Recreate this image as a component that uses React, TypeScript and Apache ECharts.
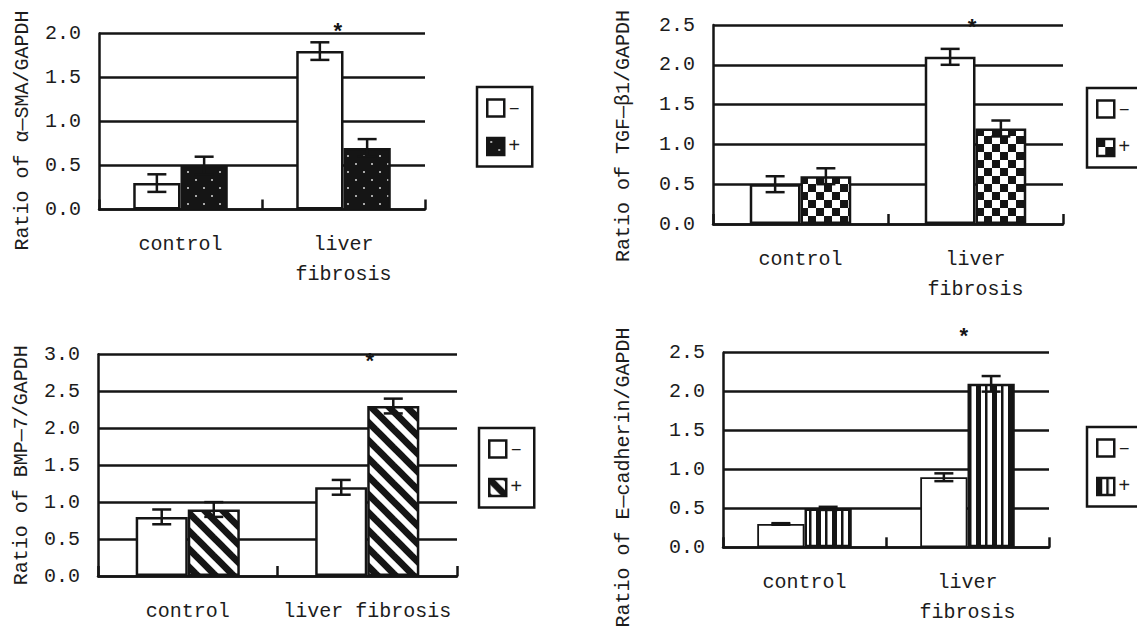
import React, { useEffect, useRef } from 'react';
import * as echarts from 'echarts';

// ---- data ----
const catTwoLine = ['control', 'liver\nfibrosis'];
const catOneLine = ['control', 'liver fibrosis'];

const smaMinus = [0.3, 1.8];
const smaPlus = [0.5, 0.7];
const smaMinusErr = [0.1, 0.1];
const smaPlusErr = [0.1, 0.1];

const tgfMinus = [0.5, 2.1];
const tgfPlus = [0.6, 1.2];
const tgfMinusErr = [0.1, 0.1];
const tgfPlusErr = [0.1, 0.1];

const bmpMinus = [0.8, 1.2];
const bmpPlus = [0.9, 2.3];
const bmpMinusErr = [0.1, 0.1];
const bmpPlusErr = [0.1, 0.1];

const ecadMinus = [0.3, 0.9];
const ecadPlus = [0.5, 2.1];
const ecadMinusErr = [0.01, 0.05];
const ecadPlusErr = [0.02, 0.1];

const yTitles = [
  'Ratio of α—SMA/GAPDH',
  'Ratio of TGF—β1/GAPDH',
  'Ratio of BMP—7/GAPDH',
  'Ratio of E—cadherin/GAPDH',
];
const yMax = [2, 2.5, 3, 2.5];
const legendLabels = ['–', '+'];
const starLabel = '*';

// ---- layout / style ----
const FONT = "'Liberation Mono', 'DejaVu Sans Mono', monospace";
const INK = '#151515';
const TEXT = '#1c1c1c';
const GAP = 0.42;

const layouts = [
  { grid: { left: 99, top: 33.5, width: 326, height: 176 }, legend: { left: 477, top: 87 }, nameGap: 67, namePad: 18, star: [18, 0], cats: catTwoLine, minusBorder: 2.5 },
  { grid: { left: 713, top: 25, width: 350, height: 199 }, legend: { left: 1087, top: 88 }, nameGap: 80, namePad: 23, star: [22, 4], cats: catTwoLine, minusBorder: 2.5 },
  { grid: { left: 98, top: 354.3, width: 359, height: 221.7 }, legend: { left: 479, top: 428 }, nameGap: 67, namePad: 0, star: [28.5, 9], cats: catOneLine, minusBorder: 2.5 },
  { grid: { left: 723, top: 352.7, width: 326, height: 194.6 }, legend: { left: 1087, top: 427 }, nameGap: 90, namePad: 55, star: [20, -14], cats: catTwoLine, minusBorder: 1.8 },
];

function makeCanvas(w: number, h: number, draw: (c: CanvasRenderingContext2D) => void) {
  const cv = document.createElement('canvas');
  cv.width = w;
  cv.height = h;
  const ctx = cv.getContext('2d')!;
  draw(ctx);
  return { image: cv, repeat: 'repeat', imageWidth: w, imageHeight: h } as any;
}

function buildPatterns() {
  const dots = makeCanvas(16, 16, (c) => {
    c.fillStyle = INK;
    c.fillRect(0, 0, 16, 16);
    c.fillStyle = '#a8a8a8';
    c.fillRect(3, 3, 2, 2);
    c.fillRect(11, 11, 2, 2);
  });
  const checker = makeCanvas(16, 16, (c) => {
    c.fillStyle = '#fff';
    c.fillRect(0, 0, 16, 16);
    c.fillStyle = INK;
    c.fillRect(0, 0, 8, 8);
    c.fillRect(8, 8, 8, 8);
  });
  const diag = makeCanvas(18, 18, (c) => {
    c.fillStyle = '#fff';
    c.fillRect(0, 0, 18, 18);
    c.strokeStyle = INK;
    c.lineWidth = 6.8;
    for (const o of [-18, 0, 18]) {
      c.beginPath();
      c.moveTo(o - 4, -4);
      c.lineTo(o + 22, 22);
      c.stroke();
    }
  });
  const vstripe = makeCanvas(16, 4, (c) => {
    c.fillStyle = '#fff';
    c.fillRect(0, 0, 16, 4);
    c.fillStyle = INK;
    c.fillRect(0, 0, 5, 4);
    c.fillRect(9, 0, 2.5, 4);
  });
  return [dots, checker, diag, vstripe];
}

function errSeries(gi: number, vals: number[], errs: number[], side: number) {
  return {
    type: 'custom',
    name: `err${side > 0 ? 'p' : 'm'}${gi}`,
    xAxisIndex: gi,
    yAxisIndex: gi,
    z: 5,
    silent: true,
    data: vals.map((v, k) => [k, v - errs[k], v + errs[k]]),
    encode: { x: 0, y: [1, 2] },
    renderItem: (params: any, api: any) => {
      const k = api.value(0);
      const lo = api.coord([k, api.value(1)]);
      const hi = api.coord([k, api.value(2)]);
      const catW = api.size([1, 0])[0];
      const bw = (catW * (1 - GAP)) / 2;
      const x = lo[0] + (side * bw) / 2;
      const c = 9.5;
      const style = { stroke: INK, lineWidth: 2.5, fill: 'none' };
      return {
        type: 'group',
        children: [
          { type: 'line', shape: { x1: x, y1: lo[1], x2: x, y2: hi[1] }, style },
          { type: 'line', shape: { x1: x - c, y1: hi[1], x2: x + c, y2: hi[1] }, style },
          { type: 'line', shape: { x1: x - c, y1: lo[1], x2: x + c, y2: lo[1] }, style },
        ],
      };
    },
  };
}

function buildOption() {
  const patterns = buildPatterns();
  const minusData = [smaMinus, tgfMinus, bmpMinus, ecadMinus];
  const plusData = [smaPlus, tgfPlus, bmpPlus, ecadPlus];
  const minusErr = [smaMinusErr, tgfMinusErr, bmpMinusErr, ecadMinusErr];
  const plusErr = [smaPlusErr, tgfPlusErr, bmpPlusErr, ecadPlusErr];

  const grid: any[] = [];
  const xAxis: any[] = [];
  const yAxis: any[] = [];
  const legend: any[] = [];
  const series: any[] = [];

  layouts.forEach((L, i) => {
    grid.push({ ...L.grid, containLabel: false });
    xAxis.push({
      type: 'category',
      gridIndex: i,
      data: L.cats,
      boundaryGap: true,
      axisLine: { show: true, lineStyle: { color: INK, width: 2.5 } },
      axisTick: { show: true, inside: true, length: 10, interval: 0, lineStyle: { color: INK, width: 2.5 } },
      axisLabel: { interval: 0, margin: 20, color: TEXT, fontFamily: FONT, fontSize: 20, lineHeight: 30 },
      splitLine: { show: false },
    });
    yAxis.push({
      type: 'value',
      gridIndex: i,
      min: 0,
      max: yMax[i],
      interval: 0.5,
      name: yTitles[i],
      nameLocation: 'middle',
      nameRotate: 90,
      nameGap: L.nameGap,
      nameTextStyle: { color: TEXT, fontFamily: FONT, fontSize: 20, padding: [0, L.namePad, 0, 0] },
      axisLine: { show: true, lineStyle: { color: INK, width: 2.5 } },
      axisTick: { show: false },
      axisLabel: { margin: 18, color: TEXT, fontFamily: FONT, fontSize: 20, formatter: (v: number) => v.toFixed(1) },
      splitLine: { show: true, lineStyle: { color: INK, width: 2.5 } },
    });
    legend.push({
      orient: 'vertical',
      left: L.legend.left,
      top: L.legend.top,
      data: [`neg${i}`, `pos${i}`],
      icon: 'rect',
      formatter: (n: string) => (n.startsWith('neg') ? legendLabels[0] : legendLabels[1]),
      selectedMode: false,
      itemWidth: 17,
      itemHeight: 17,
      itemGap: 18.5,
      padding: [11, 12, 10, 9],
      borderColor: INK,
      borderWidth: 2.5,
      backgroundColor: '#fff',
      itemStyle: { borderColor: INK, borderWidth: 2.5 },
      textStyle: { fontFamily: FONT, fontSize: 20, color: TEXT, lineHeight: 17, padding: [0, 0, 0, -1] },
    });
    series.push({
      type: 'bar',
      name: `neg${i}`,
      xAxisIndex: i,
      yAxisIndex: i,
      data: minusData[i],
      barGap: '0%',
      barCategoryGap: `${GAP * 100}%`,
      itemStyle: { color: '#fff', borderColor: INK, borderWidth: L.minusBorder },
      markPoint: {
        silent: true,
        symbol: 'rect',
        symbolSize: 1,
        itemStyle: { color: 'rgba(0,0,0,0)' },
        data: [
          {
            coord: [1, yMax[i]],
            label: {
              show: true,
              position: 'inside',
              formatter: starLabel,
              offset: L.star,
              color: INK,
              fontFamily: FONT,
              fontSize: 22,
              fontWeight: 'bold',
            },
          },
        ],
      },
    });
    series.push({
      type: 'bar',
      name: `pos${i}`,
      xAxisIndex: i,
      yAxisIndex: i,
      data: plusData[i],
      barGap: '0%',
      barCategoryGap: `${GAP * 100}%`,
      itemStyle: { color: patterns[i], borderColor: INK, borderWidth: 2.5 },
    });
    series.push(errSeries(i, minusData[i], minusErr[i], -1));
    series.push(errSeries(i, plusData[i], plusErr[i], 1));
  });

  return {
    animation: false,
    backgroundColor: '#fff',
    grid,
    xAxis,
    yAxis,
    legend,
    series,
  };
}

export default function App() {
  const ref = useRef<HTMLDivElement>(null);
  useEffect(() => {
    const chart = echarts.init(ref.current!, null, { renderer: 'svg' });
    chart.setOption(buildOption() as any);
    return () => chart.dispose();
  }, []);
  return (
    <div
      ref={ref}
      style={{ position: 'fixed', left: 0, top: 0, width: 1137, height: 631, background: '#fff' }}
    />
  );
}
